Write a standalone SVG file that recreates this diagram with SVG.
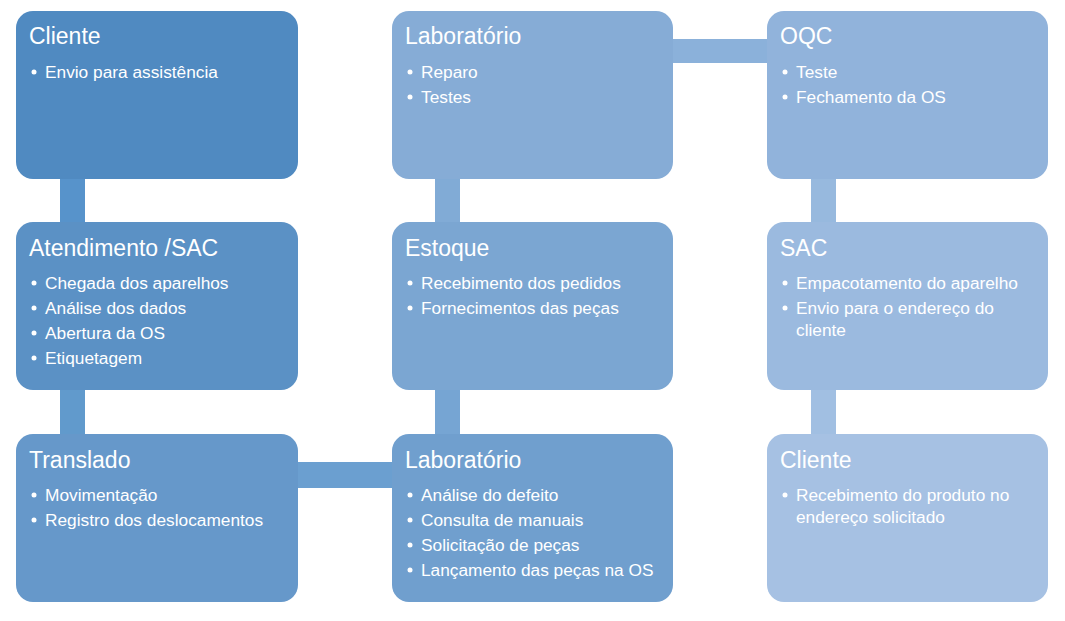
<svg xmlns="http://www.w3.org/2000/svg" width="1065" height="621" viewBox="0 0 1065 621">
<style>
.t{font-family:"Liberation Sans",Arial,sans-serif;font-size:23px;fill:#fff}
.b{font-family:"Liberation Sans",Arial,sans-serif;font-size:17.3px;fill:#fff}
.d{fill:#fff}
</style>
<rect width="1065" height="621" fill="#fff"/>
<g id="connectors">
<rect x="60" y="179" width="25" height="43" fill="#5793CB"/>
<rect x="60" y="390" width="25" height="44" fill="#619ACC"/>
<rect x="298" y="462" width="94" height="26" fill="#6B9FD0"/>
<rect x="435" y="390" width="25" height="44" fill="#76A5D3"/>
<rect x="435" y="179" width="25" height="43" fill="#81ABD6"/>
<rect x="673" y="39" width="94" height="24" fill="#8BB1DA"/>
<rect x="811" y="179" width="25" height="43" fill="#97B9DE"/>
<rect x="811" y="390" width="25" height="44" fill="#A1BFE2"/>
</g>
<g id="n1">
<rect x="16" y="11" width="282" height="168" rx="17" fill="#508AC1"/>
<text class="t" x="29" y="44">Cliente</text>
<circle class="d" cx="34" cy="72" r="2.5"/><text class="b" x="45" y="78">Envio para assistência</text>
</g>
<g id="n2">
<rect x="16" y="222" width="282" height="168" rx="17" fill="#5B91C5"/>
<text class="t" x="29" y="256">Atendimento /SAC</text>
<circle class="d" cx="34" cy="283" r="2.5"/><text class="b" x="45" y="289">Chegada dos aparelhos</text>
<circle class="d" cx="34" cy="308" r="2.5"/><text class="b" x="45" y="314">Análise dos dados</text>
<circle class="d" cx="34" cy="333" r="2.5"/><text class="b" x="45" y="339">Abertura da OS</text>
<circle class="d" cx="34" cy="358" r="2.5"/><text class="b" x="45" y="364">Etiquetagem</text>
</g>
<g id="n3">
<rect x="16" y="434" width="282" height="168" rx="17" fill="#6698CA"/>
<text class="t" x="29" y="468">Translado</text>
<circle class="d" cx="34" cy="495" r="2.5"/><text class="b" x="45" y="501">Movimentação</text>
<circle class="d" cx="34" cy="520" r="2.5"/><text class="b" x="45" y="526">Registro dos deslocamentos</text>
</g>
<g id="n4">
<rect x="392" y="434" width="281" height="168" rx="17" fill="#709FCE"/>
<text class="t" x="405" y="468">Laboratório</text>
<circle class="d" cx="410" cy="495" r="2.5"/><text class="b" x="421" y="501">Análise do defeito</text>
<circle class="d" cx="410" cy="520" r="2.5"/><text class="b" x="421" y="526">Consulta de manuais</text>
<circle class="d" cx="410" cy="545" r="2.5"/><text class="b" x="421" y="551">Solicitação de peças</text>
<circle class="d" cx="410" cy="570" r="2.5"/><text class="b" x="421" y="576">Lançamento das peças na OS</text>
</g>
<g id="n5">
<rect x="392" y="222" width="281" height="168" rx="17" fill="#7BA6D2"/>
<text class="t" x="405" y="256">Estoque</text>
<circle class="d" cx="410" cy="283" r="2.5"/><text class="b" x="421" y="289">Recebimento dos pedidos</text>
<circle class="d" cx="410" cy="308" r="2.5"/><text class="b" x="421" y="314">Fornecimentos das peças</text>
</g>
<g id="n6">
<rect x="392" y="11" width="281" height="168" rx="17" fill="#86ACD6"/>
<text class="t" x="405" y="44">Laboratório</text>
<circle class="d" cx="410" cy="72" r="2.5"/><text class="b" x="421" y="78">Reparo</text>
<circle class="d" cx="410" cy="97" r="2.5"/><text class="b" x="421" y="103">Testes</text>
</g>
<g id="n7">
<rect x="767" y="11" width="281" height="168" rx="17" fill="#91B3DB"/>
<text class="t" x="780" y="44">OQC</text>
<circle class="d" cx="785" cy="72" r="2.5"/><text class="b" x="796" y="78">Teste</text>
<circle class="d" cx="785" cy="97" r="2.5"/><text class="b" x="796" y="103">Fechamento da OS</text>
</g>
<g id="n8">
<rect x="767" y="222" width="281" height="168" rx="17" fill="#9BBADF"/>
<text class="t" x="780" y="256">SAC</text>
<circle class="d" cx="785" cy="283" r="2.5"/><text class="b" x="796" y="289">Empacotamento do aparelho</text>
<circle class="d" cx="785" cy="308" r="2.5"/><text class="b" x="796" y="314">Envio para o endereço do</text>
<text class="b" x="796" y="336">cliente</text>
</g>
<g id="n9">
<rect x="767" y="434" width="281" height="168" rx="17" fill="#A6C1E3"/>
<text class="t" x="780" y="468">Cliente</text>
<circle class="d" cx="785" cy="495" r="2.5"/><text class="b" x="796" y="501">Recebimento do produto no</text>
<text class="b" x="796" y="523">endereço solicitado</text>
</g>
</svg>
